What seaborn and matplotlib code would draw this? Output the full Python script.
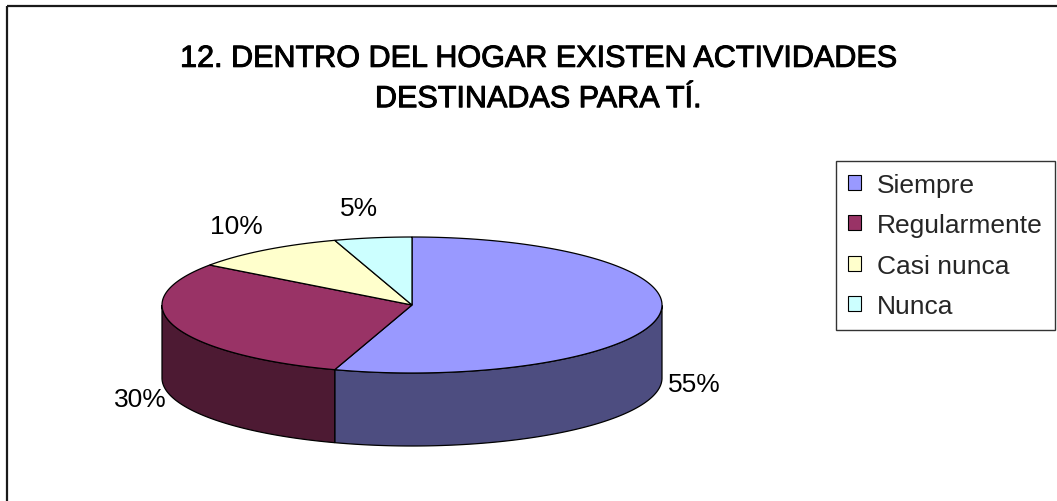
import numpy as np
import matplotlib
matplotlib.use('Agg')
import matplotlib.pyplot as plt
import matplotlib.patheffects as pe
import seaborn as sns
from matplotlib.patches import Polygon, Patch, Rectangle

sns.set_theme(style='white')
plt.rcParams['font.family'] = ['Liberation Sans', 'DejaVu Sans']

# data
categories = ['Siempre', 'Regularmente', 'Casi nunca', 'Nunca']
values = [55, 30, 10, 5]
pct_labels = ['55%', '30%', '10%', '5%']
top_colors = ['#9999FF', '#993366', '#FFFFCC', '#CCFFFF']
side_colors = ['#4D4D80', '#4D1A33', '#80806A', '#6A8080']
title = '12. DENTRO DEL HOGAR EXISTEN ACTIVIDADES\nDESTINADAS PARA TÍ.'

W, H = 1057, 502
fig = plt.figure(figsize=(W / 100, H / 100), dpi=100)
ax = fig.add_axes([0, 0, 1, 1])
ax.set_xlim(0, W)
ax.set_ylim(H, 0)
ax.axis('off')

# outer chart frame (only top/left visible, rest runs off the picture)
ax.add_patch(Rectangle((6.5, 6.5), W + 20, H + 20, fill=False, ec='#1a1a1a', lw=1.6))

# 3d pie geometry (pixel units)
cx, cy, a, b, depth = 412, 306, 250, 68, 73

def pt(theta):
    return cx + a * np.cos(theta), cy - b * np.sin(theta)

total = sum(values)
start = np.pi / 2
bounds = []
for v in values:
    end = start - 2 * np.pi * v / total
    bounds.append((start, end))
    start = end

# side walls (front half only)
for (t0, t1), col in zip(bounds, side_colors):
    th = np.linspace(t1, t0, 400)
    front = th[np.sin(th) <= 1e-9]
    if len(front) < 2:
        continue
    x, y = pt(front)
    xs = np.concatenate([x, x[::-1]])
    ys = np.concatenate([y, y[::-1] + depth])
    ax.add_patch(Polygon(np.column_stack([xs, ys]), closed=True, fc=col, ec='black', lw=0.9))

# top faces
for (t0, t1), col in zip(bounds, top_colors):
    th = np.linspace(t0, t1, 300)
    x, y = pt(th)
    ax.add_patch(Polygon(np.column_stack([np.r_[cx, x], np.r_[cy, y]]), closed=True,
                         fc=col, ec='black', lw=0.9))

# percentage labels
for (t0, t1), lab in zip(bounds, pct_labels):
    m = (t0 + t1) / 2
    lx = cx + (a + 36) * np.cos(m) - (8 if np.sin(m) > 0 else 0)
    ly = cy - (b + 30) * np.sin(m) + (depth * 0.85 + 2 if np.sin(m) < 0 else 0)
    ax.text(lx, ly, lab, ha='center', va='center', fontsize=19, color='black')

fig.text(538 / W, 1 - 80 / H, title, ha='center', va='center', fontsize=22,
         fontweight='normal', linespacing=1.45, color='black',
         path_effects=[pe.withStroke(linewidth=0.7, foreground='black')])

handles = [Patch(fc=c, ec='black', lw=0.8, label=l) for c, l in zip(top_colors, categories)]
leg = fig.legend(handles=handles, loc='upper left', bbox_to_anchor=(836 / W, 1 - 162 / H),
                 bbox_transform=fig.transFigure, frameon=True, fancybox=False, fontsize=19,
                 handlelength=0.5, handleheight=0.5, handletextpad=0.6, labelspacing=0.62,
                 borderpad=0.45, borderaxespad=0)
leg.get_frame().set_edgecolor('black')
leg.get_frame().set_linewidth(1.0)

fig.savefig('out.png', dpi=100)
